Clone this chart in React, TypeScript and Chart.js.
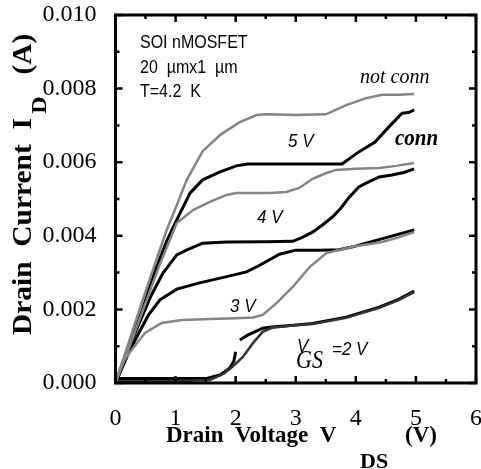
import React, { useEffect, useRef } from "react";
import { Chart, registerables } from "chart.js";
Chart.register(...registerables);

// ---- data (VDS in V, ID in A) ----
// VGS = 5 V, not connected
const vdsNc5 = [0, 0.2, 0.44, 0.65, 0.85, 1.0, 1.18, 1.45, 1.75, 2.06, 2.35, 2.5, 3.0, 3.5, 3.84, 4.17, 4.44, 4.7, 4.97];
const idNc5 = [0, 0.001, 0.0022, 0.0032, 0.00415, 0.00475, 0.0055, 0.0063, 0.00675, 0.00708, 0.00728, 0.0073, 0.00728, 0.0073, 0.00755, 0.00774, 0.00783, 0.00783, 0.00785];
// VGS = 5 V, connected
const vdsC5 = [0, 0.2, 0.45, 0.66, 0.85, 1.02, 1.24, 1.45, 1.73, 2.01, 2.2, 3.0, 3.77, 4.05, 4.32, 4.55, 4.77, 4.88, 4.97];
const idC5 = [0, 0.0009, 0.002, 0.00305, 0.00385, 0.00443, 0.00516, 0.00552, 0.00573, 0.0059, 0.00595, 0.00595, 0.00595, 0.00628, 0.00655, 0.00696, 0.00733, 0.00735, 0.00742];
// VGS = 4 V, not connected
const vdsNc4 = [0, 0.2, 0.45, 0.72, 1.02, 1.29, 1.57, 1.85, 2.01, 2.3, 2.56, 2.84, 3.06, 3.28, 3.5, 3.67, 4.0, 4.39, 4.67, 4.97];
const idNc4 = [0, 0.00085, 0.00195, 0.00315, 0.00435, 0.0047, 0.00492, 0.00511, 0.00516, 0.00516, 0.00516, 0.00519, 0.0053, 0.00555, 0.0057, 0.00579, 0.00582, 0.00584, 0.0059, 0.00598];
// VGS = 4 V, connected
const vdsC4 = [0, 0.2, 0.4, 0.6, 0.79, 1.02, 1.18, 1.45, 1.85, 2.5, 2.95, 3.1, 3.28, 3.45, 3.61, 3.75, 3.89, 4.05, 4.17, 4.39, 4.6, 4.8, 4.97];
const idC4 = [0, 0.00085, 0.00165, 0.0024, 0.00299, 0.00348, 0.00361, 0.0038, 0.00383, 0.00384, 0.00385, 0.00395, 0.0041, 0.0043, 0.00451, 0.00475, 0.00505, 0.00533, 0.00543, 0.0056, 0.00565, 0.00572, 0.00582];
// VGS = 3 V, not connected
const vdsNc3 = [0, 0.11, 0.27, 0.49, 0.77, 1.1, 1.57, 2.0, 2.29, 2.45, 2.68, 2.95, 3.23, 3.51, 3.94, 4.44, 4.7, 4.97];
const idNc3 = [0, 0.00054, 0.0009, 0.00136, 0.00163, 0.00171, 0.00174, 0.00176, 0.00178, 0.00185, 0.00217, 0.00261, 0.00315, 0.00353, 0.0037, 0.00383, 0.00395, 0.0041];
// VGS = 3 V, connected
const vdsC3 = [0, 0.2, 0.4, 0.55, 0.74, 1.02, 1.4, 1.85, 2.18, 2.4, 2.73, 3.0, 3.4, 3.72, 3.95, 4.17, 4.55, 4.97];
const idC3 = [0, 0.00075, 0.0014, 0.00185, 0.00226, 0.00255, 0.00272, 0.00289, 0.00302, 0.0032, 0.0035, 0.00361, 0.00361, 0.00362, 0.0037, 0.0038, 0.00397, 0.00416];
// VGS = 2 V, not connected
const vdsNc2 = [0, 0.5, 1.0, 1.57, 1.8, 1.95, 2.12, 2.29, 2.45, 2.6, 3.06, 3.28, 3.84, 4.39, 4.72, 4.97];
const idNc2 = [0.00005, 0.00005, 0.00005, 0.00008, 0.00025, 0.00045, 0.00071, 0.00109, 0.00139, 0.0015, 0.00158, 0.0016, 0.00177, 0.00204, 0.00226, 0.00247];
// VGS = 2 V, connected (gap = jump)
const vdsC2 = [0, 0.5, 1.0, 1.5, 1.74, 1.9, 1.97, 2.0, 2.03, 2.07, 2.2, 2.45, 2.6, 3.06, 3.28, 3.84, 4.39, 4.72, 4.97];
const idC2 = [0.00012, 0.00012, 0.00012, 0.00012, 0.00022, 0.0004, 0.0006, 0.00085, null, 0.00117, 0.0013, 0.00149, 0.00152, 0.00158, 0.00162, 0.00179, 0.00206, 0.00228, 0.0025];

const xTickLabels = ["0", "1", "2", "3", "4", "5", "6"];
const yTickLabels = ["0.000", "0.002", "0.004", "0.006", "0.008", "0.010"];

const GRAY = "#858585";
const BLACK = "#000000";
const SERIF = "'Liberation Serif', 'Times New Roman', serif";
const SANS = "'Liberation Sans', Arial, sans-serif";

function pts(xs: number[], ys: (number | null)[]) {
  return xs.map((x, i) => ({ x, y: ys[i] }));
}

function tall(ctx: CanvasRenderingContext2D, text: string, x: number, y: number, sy: number) {
  ctx.save();
  ctx.translate(x, y);
  ctx.scale(1, sy);
  ctx.fillText(text, 0, 0);
  ctx.restore();
}

const annotPlugin = {
  id: "annot",
  afterDraw(chart: any) {
    const ctx: CanvasRenderingContext2D = chart.ctx;
    const { left, right, top, bottom } = chart.chartArea;
    const xs = chart.scales.x;
    const ys = chart.scales.y;
    ctx.save();
    ctx.strokeStyle = "#000";
    // frame
    ctx.lineWidth = 3;
    ctx.strokeRect(left, top, right - left, bottom - top);
    // ticks (inward, all four sides)
    ctx.lineWidth = 2.5;
    ctx.beginPath();
    for (let i = 0; i <= 12; i++) {
      const v = i * 0.5;
      const len = i % 2 === 0 ? 7 : 4;
      const px = xs.getPixelForValue(v);
      ctx.moveTo(px, bottom);
      ctx.lineTo(px, bottom - len);
      ctx.moveTo(px, top);
      ctx.lineTo(px, top + len);
    }
    for (let i = 0; i <= 10; i++) {
      const v = i * 0.001;
      const len = i % 2 === 0 ? 7 : 4;
      const py = ys.getPixelForValue(v);
      ctx.moveTo(left, py);
      ctx.lineTo(left + len, py);
      ctx.moveTo(right, py);
      ctx.lineTo(right - len, py);
    }
    ctx.stroke();

    ctx.fillStyle = "#000";
    ctx.textBaseline = "alphabetic";
    ctx.textAlign = "left";
    // inset text
    ctx.font = `16px ${SANS}`;
    tall(ctx, "SOI nMOSFET", 140, 48, 1.15);
    tall(ctx, "20  \u00b5mx1  \u00b5m", 140, 73, 1.15);
    tall(ctx, "T=4.2  K", 140, 97, 1.15);

    ctx.font = `italic 20px ${SERIF}`;
    tall(ctx, "not conn", 360, 83, 1.1);
    ctx.font = `italic bold 21px ${SERIF}`;
    tall(ctx, "conn", 395, 145, 1.1);

    ctx.font = `italic 17px ${SANS}`;
    tall(ctx, "5 V", 288, 147, 1.1);
    tall(ctx, "4 V", 257, 223, 1.1);
    tall(ctx, "3 V", 230, 312, 1.1);
    tall(ctx, "V", 297, 352, 1.1);
    tall(ctx, "=2 V", 332, 355, 1.1);
    ctx.font = `italic 22px ${SERIF}`;
    tall(ctx, "GS", 296, 368, 1.1);

    // x axis title
    ctx.font = `bold 23px ${SERIF}`;
    ctx.fillText("Drain  Voltage  V", 166, 442);
    ctx.fillText("(V)", 405, 442);
    ctx.font = `bold 22px ${SERIF}`;
    ctx.fillText("DS", 360, 468);

    // y axis title (rotated)
    ctx.save();
    ctx.translate(31, 335);
    ctx.rotate(-Math.PI / 2);
    ctx.scale(1.09, 1);
    ctx.font = `bold 27px ${SERIF}`;
    const t1 = "Drain  Current  I";
    ctx.fillText(t1, 0, 0);
    const w1 = ctx.measureText(t1).width;
    ctx.font = `bold 22px ${SERIF}`;
    ctx.fillText("D", w1 + 4, 15);
    const w2 = ctx.measureText("D").width;
    ctx.font = `bold 27px ${SERIF}`;
    ctx.fillText("(A)", w1 + w2 + 24, 0);
    ctx.restore();

    ctx.restore();
  },
};

export default function App() {
  const ref = useRef<HTMLCanvasElement>(null);
  useEffect(() => {
    if (!ref.current) return;
    const mk = (xs: number[], ys: (number | null)[], color: string, width: number) => ({
      data: pts(xs, ys),
      borderColor: color,
      backgroundColor: color,
      borderWidth: width,
      pointRadius: 0,
      tension: 0,
      spanGaps: false,
      fill: false,
    });
    const chart = new Chart(ref.current, {
      type: "line",
      data: {
        datasets: [
          mk(vdsNc5, idNc5, GRAY, 2.5),
          mk(vdsNc4, idNc4, GRAY, 2.5),
          mk(vdsNc3, idNc3, GRAY, 2.5),
          mk(vdsNc2, idNc2, "#333", 2.5),
          mk(vdsC5, idC5, BLACK, 3),
          mk(vdsC4, idC4, BLACK, 3),
          mk(vdsC3, idC3, BLACK, 3),
          mk(vdsC2, idC2, BLACK, 3),
        ] as any,
      },
      options: {
        animation: false,
        responsive: true,
        maintainAspectRatio: false,
        layout: { padding: { top: 15, right: 5, left: 0, bottom: 0 } },
        plugins: { legend: { display: false }, tooltip: { enabled: false } },
        scales: {
          x: {
            type: "linear",
            min: 0,
            max: 6,
            grid: { display: false },
            border: { display: false },
            ticks: {
              stepSize: 1,
              padding: 13,
              color: "#000",
              font: { family: SERIF, size: 24 },
              callback: (_v: any, i: number) => xTickLabels[i],
              maxRotation: 0,
            },
            afterFit: (s: any) => {
              s.height = 86;
              s.paddingLeft = 0;
              s.paddingRight = 0;
            },
          },
          y: {
            type: "linear",
            min: 0,
            max: 0.01,
            grid: { display: false },
            border: { display: false },
            ticks: {
              stepSize: 0.002,
              padding: 11,
              color: "#000",
              font: { family: SERIF, size: 24 },
              callback: (_v: any, i: number) => yTickLabels[i],
            },
            afterFit: (s: any) => {
              s.width = 115.5;
              s.paddingTop = 0;
              s.paddingBottom = 0;
            },
          },
        },
      } as any,
      plugins: [annotPlugin],
    });
    return () => chart.destroy();
  }, []);
  return (
    <div style={{ position: "absolute", left: 0, top: 0, width: 481, height: 469 }}>
      <canvas ref={ref} />
    </div>
  );
}
